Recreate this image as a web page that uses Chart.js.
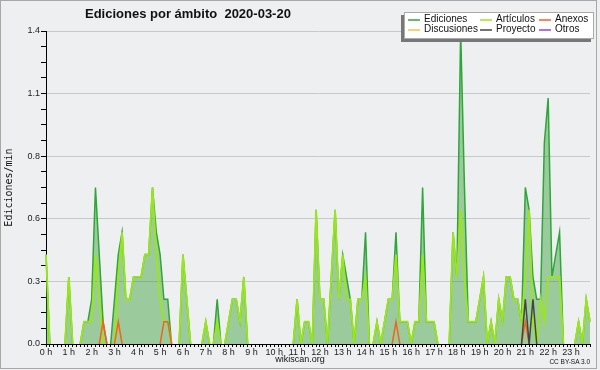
<!DOCTYPE html>
<html>
<head>
<meta charset="utf-8">
<script src="https://cdn.jsdelivr.net/npm/chart.js@4.4.1/dist/chart.umd.min.js"></script>
<style>
  html, body { margin: 0; padding: 0; background: #eeeff1; }
  #wrap { position: relative; width: 600px; height: 370px; overflow: hidden; font-family: "Liberation Sans", Arial, sans-serif; color: #111; }
  #chart { position: absolute; left: 0; top: 0; }
  .frame { position: absolute; left: 0; top: 0; width: 595px; height: 367px; border: 1px solid #a8a8a8; pointer-events: none; }
  .title { position: absolute; left: 85px; top: 7px; font-weight: bold; font-size: 13px; line-height: 13px; white-space: pre; }
  #legend { position: absolute; left: 404px; top: 12px; width: 188px; height: 25px; background: #fff; border: 1px solid #aaa; box-shadow: -3px 3px 0 #777; }
  .item { position: absolute; font-size: 10px; line-height: 10px; white-space: nowrap; }
  .sw { position: absolute; left: -16px; top: 5px; width: 12px; height: 1.5px; opacity: 0.75; }
  .foot { position: absolute; white-space: nowrap; }
</style>
</head>
<body>
<div id="wrap">
  <canvas id="chart" width="600" height="370"></canvas>
  <div class="title">Ediciones por ámbito  2020-03-20</div>
  <div id="legend"></div>
  <div class="foot" style="left:0;width:600px;text-align:center;top:355px;font-size:9px;line-height:9px;">wikiscan.org</div>
  <div class="foot" style="right:10px;top:359px;font-size:6.5px;line-height:6.5px;">CC BY-SA 3.0</div>
  <div class="frame"></div>
</div>
<script>
// one value per 10 minutes, edits per minute
const hours = ['0 h', '1 h', '2 h', '3 h', '4 h', '5 h', '6 h', '7 h', '8 h', '9 h', '10 h', '11 h',
  '12 h', '13 h', '14 h', '15 h', '16 h', '17 h', '18 h', '19 h', '20 h', '21 h', '22 h', '23 h'];

const ediciones = [
  0.4, 0, 0, 0, 0, 0, 0.3, 0, 0, 0, 0.1, 0.1, 0.2, 0.7, 0.4, 0.1, 0, 0, 0.2, 0.4, 0.5, 0.2, 0.2, 0.3,
  0.3, 0.3, 0.4, 0.4, 0.7, 0.5, 0.4, 0.2, 0.2, 0, 0, 0, 0.4, 0.2, 0, 0, 0, 0, 0.1, 0, 0, 0.2, 0, 0,
  0.1, 0.2, 0.2, 0.1, 0.3, 0, 0, 0, 0, 0, 0, 0, 0, 0, 0, 0, 0, 0, 0.2, 0, 0.1, 0.1, 0, 0.6,
  0.2, 0.2, 0, 0.3, 0.6, 0.2, 0.4, 0.3, 0.2, 0, 0.2, 0.2, 0.5, 0, 0, 0.1, 0, 0.1, 0.2, 0.2, 0.5, 0.1, 0.1, 0.1,
  0, 0.1, 0.1, 0.7, 0.1, 0.1, 0.1, 0, 0, 0, 0, 0.5, 0.3, 1.4, 0.7, 0.1, 0.1, 0.1, 0.2, 0.3, 0, 0.1, 0, 0.2,
  0.1, 0.3, 0.3, 0.2, 0.2, 0.1, 0.7, 0.6, 0.3, 0.2, 0.2, 0.9, 1.1, 0.3, 0.4, 0.5, 0, 0, 0, 0, 0.1, 0, 0.2, 0.1
];
const articulos = [
  0.4, 0, 0, 0, 0, 0, 0.3, 0, 0, 0, 0.1, 0.1, 0.1, 0.4, 0.2, 0, 0, 0, 0, 0.3, 0.5, 0.2, 0.2, 0.3,
  0.3, 0.3, 0.4, 0.4, 0.7, 0.4, 0.2, 0.1, 0.1, 0, 0, 0, 0.4, 0.2, 0, 0, 0, 0, 0.1, 0, 0, 0.1, 0, 0,
  0.1, 0.2, 0.2, 0.1, 0.3, 0, 0, 0, 0, 0, 0, 0, 0, 0, 0, 0, 0, 0, 0.2, 0, 0.1, 0.1, 0, 0.6,
  0.2, 0.2, 0, 0.3, 0.6, 0.2, 0.4, 0.2, 0.2, 0, 0.2, 0.2, 0.3, 0, 0, 0.1, 0, 0.1, 0.2, 0.2, 0.4, 0.1, 0.1, 0.1,
  0, 0.1, 0.1, 0.4, 0.1, 0.1, 0.1, 0, 0, 0, 0, 0.5, 0.3, 0.6, 0.3, 0.1, 0.1, 0.1, 0.2, 0.3, 0, 0.1, 0, 0.2,
  0.1, 0.3, 0.3, 0.2, 0.2, 0.1, 0.3, 0.6, 0.1, 0, 0.2, 0.1, 0.3, 0.3, 0.3, 0.3, 0, 0, 0, 0, 0.1, 0, 0.2, 0.1
];
const anexos = [
  0, 0, 0, 0, 0, 0, 0, 0, 0, 0, 0, 0, 0, 0, 0, 0.1, 0, 0, 0, 0.1, 0, 0, 0, 0,
  0, 0, 0, 0, 0, 0, 0, 0.1, 0.1, 0, 0, 0, 0, 0, 0, 0, 0, 0, 0, 0, 0, 0, 0, 0,
  0, 0, 0, 0, 0, 0, 0, 0, 0, 0, 0, 0, 0, 0, 0, 0, 0, 0, 0, 0, 0, 0, 0, 0,
  0, 0, 0, 0, 0, 0, 0, 0, 0, 0, 0, 0, 0, 0, 0, 0, 0, 0, 0, 0, 0.1, 0, 0, 0,
  0, 0, 0, 0, 0, 0, 0, 0, 0, 0, 0, 0, 0, 0, 0, 0, 0, 0, 0, 0, 0, 0, 0, 0,
  0, 0, 0, 0, 0, 0, 0.1, 0, 0, 0, 0, 0, 0, 0, 0, 0, 0, 0, 0, 0, 0, 0, 0, 0
];
const discusiones = [
  0, 0, 0, 0, 0, 0, 0, 0, 0, 0, 0, 0, 0, 0, 0, 0, 0, 0, 0, 0, 0, 0, 0, 0,
  0, 0, 0, 0, 0, 0, 0, 0, 0, 0, 0, 0, 0, 0, 0, 0, 0, 0, 0, 0, 0, 0, 0, 0,
  0, 0, 0, 0, 0, 0, 0, 0, 0, 0, 0, 0, 0, 0, 0, 0, 0, 0, 0, 0, 0, 0, 0, 0,
  0, 0, 0, 0, 0, 0, 0, 0, 0, 0, 0, 0, 0, 0, 0, 0, 0, 0, 0, 0, 0, 0, 0, 0,
  0, 0, 0, 0, 0, 0, 0, 0, 0, 0, 0, 0, 0, 0, 0, 0, 0, 0, 0, 0, 0, 0, 0, 0,
  0, 0, 0, 0, 0, 0, 0, 0, 0, 0, 0, 0, 0, 0, 0, 0, 0, 0, 0, 0, 0, 0, 0, 0
];
const proyecto = [
  0, 0, 0, 0, 0, 0, 0, 0, 0, 0, 0, 0, 0, 0, 0, 0, 0, 0, 0, 0, 0, 0, 0, 0,
  0, 0, 0, 0, 0, 0, 0, 0, 0, 0, 0, 0, 0, 0, 0, 0, 0, 0, 0, 0, 0, 0, 0, 0,
  0, 0, 0, 0, 0, 0, 0, 0, 0, 0, 0, 0, 0, 0, 0, 0, 0, 0, 0, 0, 0, 0, 0, 0,
  0, 0, 0, 0, 0, 0, 0, 0, 0, 0, 0, 0, 0, 0, 0, 0, 0, 0, 0, 0, 0, 0, 0, 0,
  0, 0, 0, 0, 0, 0, 0, 0, 0, 0, 0, 0, 0, 0, 0, 0, 0, 0, 0, 0, 0, 0, 0, 0,
  0, 0, 0, 0, 0, 0, 0.2, 0, 0.2, 0, 0, 0, 0, 0, 0, 0, 0, 0, 0, 0, 0, 0, 0, 0
];
const otros = [
  0, 0, 0, 0, 0, 0, 0, 0, 0, 0, 0, 0, 0, 0, 0, 0, 0, 0, 0, 0, 0, 0, 0, 0,
  0, 0, 0, 0, 0, 0, 0, 0, 0, 0, 0, 0, 0, 0, 0, 0, 0, 0, 0, 0, 0, 0, 0, 0,
  0, 0, 0, 0, 0, 0, 0, 0, 0, 0, 0, 0, 0, 0, 0, 0, 0, 0, 0, 0, 0, 0, 0, 0,
  0, 0, 0, 0, 0, 0, 0, 0, 0, 0, 0, 0, 0, 0, 0, 0, 0, 0, 0, 0, 0, 0, 0, 0,
  0, 0, 0, 0, 0, 0, 0, 0, 0, 0, 0, 0, 0, 0, 0, 0, 0, 0, 0, 0, 0, 0, 0, 0,
  0, 0, 0, 0, 0, 0, 0, 0, 0, 0, 0, 0, 0, 0, 0, 0, 0, 0, 0, 0, 0, 0, 0, 0
];
const yTicks = [0, 0.28, 0.56, 0.84, 1.12, 1.4];

(function () {
  const slots = [];
  hours.forEach((h) => {
    for (let m = 0; m < 60; m += 10) slots.push(h.replace(" h", "") + ":" + String(m).padStart(2, "0"));
  });

  // minor ticks: 4 steps between labelled ones
  const yAll = [];
  yTicks.forEach((v, i) => {
    if (i === 0) { yAll.push(v); return; }
    const prev = yTicks[i - 1];
    for (let k = 1; k <= 4; k++) yAll.push(prev + ((v - prev) * k) / 4);
  });

  const hideFlat = (ctx) => (ctx.p0.parsed.y === 0 && ctx.p1.parsed.y === 0 ? "rgba(0,0,0,0)" : undefined);
  const series = (label, data, color, order, extra) =>
    Object.assign(
      { label, data, borderColor: color, backgroundColor: color, borderWidth: 1.5, pointRadius: 0,
        tension: 0, fill: false, order, segment: { borderColor: hideFlat } },
      extra || {}
    );

  const datasets = [
    series("Ediciones", ediciones, "#2fa63a", 6, { fill: "origin", backgroundColor: "rgba(40, 150, 40, 0.42)" }),
    series("Artículos", articulos, "#9be619", 5, { borderWidth: 1.8 }),
    series("Anexos", anexos, "#f0641e", 3),
    series("Discusiones", discusiones, "#f5c542", 4),
    series("Proyecto", proyecto, "#444444", 2),
    series("Otros", otros, "#9b40e0", 1),
  ];

  const tickFont = { family: "Liberation Sans, Arial, sans-serif", size: 9 };

  new Chart(document.getElementById("chart"), {
    type: "line",
    data: { labels: slots, datasets },
    options: {
      responsive: false,
      animation: false,
      devicePixelRatio: 1,
      layout: { padding: { top: 31, right: 10, left: 0, bottom: 0 } },
      plugins: { legend: { display: false }, tooltip: { enabled: false }, title: { display: false } },
      scales: {
        x: {
          type: "category",
          offset: false,
          z: 1,
          grid: { drawOnChartArea: false, drawTicks: true, tickLength: 3, tickColor: "#000" },
          border: { display: true, color: "#000", width: 1 },
          ticks: {
            autoSkip: false,
            maxRotation: 0,
            minRotation: 0,
            padding: 0,
            color: "#222",
            font: tickFont,
            callback: (v, i) => (i % 6 === 0 ? hours[i / 6] : ""),
          },
          afterFit: (s) => { s.height = 26; },
        },
        y: {
          min: 0,
          max: 1.4,
          grid: {
            color: (ctx) => (ctx.index % 4 === 0 ? "#c8c8c8" : "rgba(0,0,0,0)"),
            tickColor: "#000",
            tickLength: 5,
          },
          border: { display: true, color: "#000", width: 1 },
          ticks: {
            padding: 1,
            color: "#222",
            font: tickFont,
            callback: (v, i) => (i % 4 === 0 ? v.toFixed(1) : ""),
          },
          afterBuildTicks: (s) => { s.ticks = yAll.map((v) => ({ value: v })); },
          title: {
            display: true,
            text: "Ediciones/min",
            color: "#111",
            font: { family: "DejaVu Sans Mono, monospace", size: 10 },
            padding: { top: 3, bottom: 0 },
          },
          afterFit: (s) => { s.width = 46; },
        },
      },
    },
  });

  // legend box, 3 columns
  const legend = document.getElementById("legend");
  const colX = [19, 91, 150];
  datasets.forEach((ds, k) => {
    const item = document.createElement("div");
    item.className = "item";
    item.style.left = colX[k % 3] + "px";
    item.style.top = (1 + Math.floor(k / 3) * 10) + "px";
    const sw = document.createElement("span");
    sw.className = "sw";
    sw.style.background = ds.borderColor;
    item.appendChild(sw);
    item.appendChild(document.createTextNode(ds.label));
    legend.appendChild(item);
  });
})();
</script>
</body>
</html>
